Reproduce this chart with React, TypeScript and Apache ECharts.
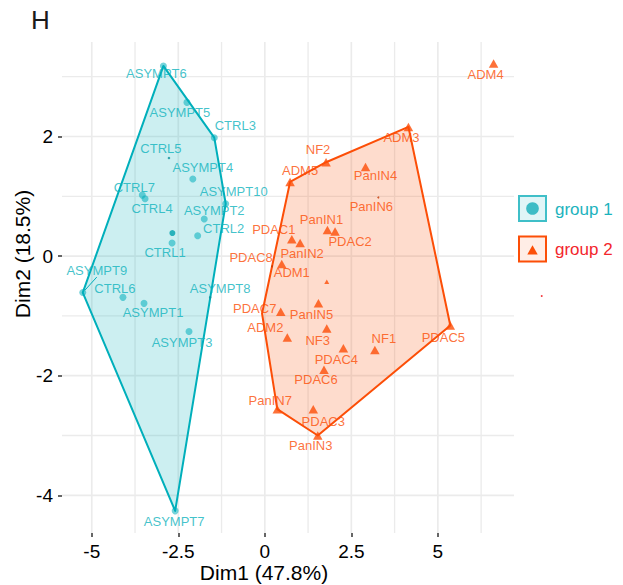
import React, { useEffect, useRef } from 'react';
import * as echarts from 'echarts';

// ---- data (Dim1, Dim2) ----
const g1Names = ['ASYMPT6', 'ASYMPT5', 'CTRL3', 'CTRL5', 'ASYMPT4', 'CTRL7', 'CTRL4', 'ASYMPT10', 'ASYMPT2', 'CTRL2', 'CTRL1', 'ASYMPT9', 'CTRL6', 'ASYMPT1', 'ASYMPT8', 'ASYMPT3', 'ASYMPT7'];
const g1X = [-2.93, -2.25, -1.46, -2.77, -2.08, -3.54, -3.46, -1.13, -1.75, -1.94, -2.68, -5.26, -4.10, -3.49, -1.58, -2.19, -2.59];
const g1Y = [3.18, 2.57, 1.98, 1.64, 1.29, 1.02, 0.96, 0.875, 0.62, 0.34, 0.22, -0.61, -0.69, -0.79, -0.69, -1.26, -4.26];

const g2Names = ['ADM4', 'ADM3', 'NF2', 'PanIN4', 'ADM5', 'PanIN6', 'PanIN1', 'PDAC2', 'PDAC1', 'PanIN2', 'ADM1', 'PDAC8', 'PanIN5', 'PDAC7', 'ADM2', 'NF3', 'NF1', 'PDAC4', 'PDAC5', 'PDAC6', 'PanIN7', 'PDAC3', 'PanIN3'];
const g2X = [6.61, 4.15, 1.77, 2.91, 0.73, 3.28, 1.81, 2.03, 0.78, 1.02, 0.49, 0.21, 1.55, 0.46, 0.65, 1.79, 3.18, 2.27, 5.36, 1.71, 0.36, 1.40, 1.53];
const g2Y = [3.22, 2.16, 1.57, 1.49, 1.24, 0.98, 0.435, 0.41, 0.28, 0.22, -0.13, -0.17, -0.79, -0.93, -1.36, -1.21, -1.57, -1.54, -1.16, -1.90, -2.56, -2.56, -3.00];

// unlabeled extra points (cluster centres / hidden hull vertex)
const extraIds = ['c1', 'c2', 'v2'];
const extraGroup = [1, 2, 2];
const extraX = [-2.67, 1.79, -0.08];
const extraY = [0.385, -0.43, -0.96];

const hull1 = ['ASYMPT6', 'CTRL3', 'ASYMPT10', 'ASYMPT7', 'ASYMPT9'];
const hull2 = ['ADM5', 'NF2', 'ADM3', 'PDAC5', 'PanIN3', 'PanIN7', 'v2', 'PDAC8'];

const xTicks = [-5, -2.5, 0, 2.5, 5];
const xMinor = [-3.75, -1.25, 1.25, 3.75, 6.25];
const yTicks = [-4, -2, 0, 2];
const yMinor = [-3, -1, 1, 3];

// ---- layout / style (not data) ----
const C1 = '#00AFBB';
const C2 = '#FC4E07';
const FONT = 'Liberation Sans, Arial, Helvetica, sans-serif';
const tiny = new Set(['CTRL5', 'ASYMPT8', 'PanIN6', 'PDAC8']);
const g1LabelOffsets: number[][] = [
  [-7, 8], [-7, 10], [21, -12], [-8, -10], [10, -11], [-8, -8], [7, 10], [8, -12], [10, -9], [26, -7], [-7, 10], [14, -22], [-8, -9], [9, 9], [10, -9], [-7, 11], [-1, 11],
];
const g2LabelOffsets: number[][] = [
  [-8, 11], [-7, 11], [-8, -13], [10, 9], [10, -11], [-7, 9], [-6, -11], [15, 10], [-18, -10], [2, 11], [10, 9], [-21, -9], [-7, 11], [-26, -3], [-22, -10], [-9, 12], [9, -11], [-7, 11], [-7, 12], [-8, 10], [-7, -9], [10, 12], [-7, 10],
];

const lookup: Record<string, number[]> = {};
g1Names.forEach((n, i) => (lookup[n] = [g1X[i], g1Y[i]]));
g2Names.forEach((n, i) => (lookup[n] = [g2X[i], g2Y[i]]));
extraIds.forEach((n, i) => (lookup[n] = [extraX[i], extraY[i]]));

export default function App() {
  const ref = useRef<HTMLDivElement>(null);
  useEffect(() => {
    document.body.style.margin = '0';
    const chart = echarts.init(ref.current!, null, { renderer: 'svg' });

    const gridData = [
      ...xTicks.map((v) => [0, v, 1]),
      ...xMinor.map((v) => [0, v, 0]),
      ...yTicks.map((v) => [1, v, 1]),
      ...yMinor.map((v) => [1, v, 0]),
    ];

    const hullSeries = (names: string[], color: string, fill: string) => ({
      type: 'custom',
      z: 1,
      silent: true,
      clip: false,
      data: [lookup[names[0]]],
      renderItem: (params: any, api: any) => ({
        type: 'polygon',
        shape: { points: names.map((n) => api.coord(lookup[n])) },
        style: { fill, stroke: color, lineWidth: 2, lineJoin: 'round' },
      }),
    });

    const g1Data = g1Names.map((n, i) => ({
      name: n,
      value: [g1X[i], g1Y[i]],
      symbolSize: tiny.has(n) ? 2.5 : 7,
      itemStyle: { color: tiny.has(n) ? '#0a8f99' : 'rgba(0,175,187,0.68)' },
      labelLine: n === 'ASYMPT9' ? { show: true, lineStyle: { color: C1, width: 1 } } : { show: false },
    }));
    const g2Data = g2Names.map((n, i) => ({
      name: n,
      value: [g2X[i], g2Y[i]],
      symbolSize: tiny.has(n) ? 2 : [9.5, 8.5],
      symbol: tiny.has(n) ? 'circle' : 'triangle',
      itemStyle: { color: tiny.has(n) ? '#c33a05' : C2 },
    }));
    const extraData = extraIds.map((id, i) => ({
      name: id,
      value: [extraX[i], extraY[i]],
      symbol: extraGroup[i] === 1 ? 'circle' : 'triangle',
      symbolSize: id === 'v2' ? 0 : extraGroup[i] === 1 ? 6 : [5, 4.5],
      itemStyle: { color: extraGroup[i] === 1 ? '#00a3ae' : C2 },
    }));

    const tickStyle = { show: true, length: 4, lineStyle: { color: '#333', width: 1.5 } };
    const labelStyle = { fontSize: 19, color: '#000', margin: 9, fontFamily: FONT, formatter: (v: number) => String(v) };

    chart.setOption({
      animation: false,
      grid: { left: 62, right: 109, top: 42, bottom: 52, containLabel: false },
      xAxis: {
        type: 'value',
        min: -5.86,
        max: 7.2,
        position: 'bottom',
        axisLine: { show: false, onZero: false },
        splitLine: { show: false },
        axisTick: { ...tickStyle, customValues: xTicks },
        axisLabel: { ...labelStyle, customValues: xTicks },
      },
      yAxis: {
        type: 'value',
        min: -4.63,
        max: 3.58,
        position: 'left',
        axisLine: { show: false, onZero: false },
        splitLine: { show: false },
        axisTick: { ...tickStyle, customValues: yTicks },
        axisLabel: { ...labelStyle, customValues: yTicks },
      },
      series: [
        {
          type: 'custom',
          z: 0,
          silent: true,
          data: gridData,
          renderItem: (params: any, api: any) => {
            const cs = params.coordSys;
            const dir = api.value(0);
            const v = api.value(1);
            const major = api.value(2) === 1;
            const style = { stroke: '#ebebeb', lineWidth: major ? 1.7 : 1.3 };
            if (dir === 0) {
              const x = api.coord([v, 0])[0];
              return { type: 'line', shape: { x1: x, y1: cs.y, x2: x, y2: cs.y + cs.height }, style };
            }
            const y = api.coord([0, v])[1];
            return { type: 'line', shape: { x1: cs.x, y1: y, x2: cs.x + cs.width, y2: y }, style };
          },
        },
        hullSeries(hull1, C1, 'rgba(0,175,187,0.2)'),
        hullSeries(hull2, C2, 'rgba(252,78,7,0.2)'),
        {
          type: 'scatter',
          z: 3,
          data: extraData,
          label: { show: false },
        },
        {
          type: 'scatter',
          z: 4,
          symbol: 'circle',
          data: g1Data,
          label: { show: true, position: 'inside', formatter: '{b}', color: '#10b3bd', fontSize: 13, fontFamily: FONT },
          labelLine: { show: false },
          labelLayout: (p: any) => {
            const o = g1LabelOffsets[p.dataIndex] || [0, 0];
            return { dx: o[0], dy: o[1] };
          },
        },
        {
          type: 'scatter',
          z: 4,
          data: g2Data,
          label: { show: true, position: 'inside', formatter: '{b}', color: C2, fontSize: 13, fontFamily: FONT },
          labelLayout: (p: any) => {
            const o = g2LabelOffsets[p.dataIndex] || [0, 0];
            return { dx: o[0], dy: o[1] };
          },
        },
      ],
      graphic: [
        { type: 'text', left: 31, top: 7, style: { text: 'H', fontSize: 26, fill: '#1a1a1a', fontFamily: FONT } },
        { type: 'text', x: 264, y: 572, style: { text: 'Dim1 (47.8%)', fontSize: 21, fill: '#000', fontFamily: FONT, align: 'center', verticalAlign: 'middle' } },
        { type: 'text', x: 22, y: 254, rotation: Math.PI / 2, style: { text: 'Dim2 (18.5%)', fontSize: 21, fill: '#000', fontFamily: FONT, align: 'center', verticalAlign: 'middle' } },
        { type: 'rect', shape: { x: 519, y: 196, width: 27, height: 25 }, style: { fill: 'rgba(0,175,187,0.12)', stroke: '#3fbfc8', lineWidth: 2 } },
        { type: 'circle', shape: { cx: 532.5, cy: 208.5, r: 6.3 }, style: { fill: '#3dbcc6' } },
        { type: 'text', x: 555, y: 209, style: { text: 'group 1', fontSize: 17, fill: '#1cb3bd', fontFamily: FONT, verticalAlign: 'middle' } },
        { type: 'rect', shape: { x: 519, y: 236.5, width: 27, height: 25 }, style: { fill: 'rgba(252,78,7,0.1)', stroke: C2, lineWidth: 2 } },
        { type: 'polygon', shape: { points: [[527.3, 254.5], [537.7, 254.5], [532.5, 245.3]] }, style: { fill: C2 } },
        { type: 'text', x: 555, y: 249, style: { text: 'group 2', fontSize: 17, fill: '#F3262C', fontFamily: FONT, verticalAlign: 'middle' } },
        { type: 'circle', shape: { cx: 541.7, cy: 296, r: 0.9 }, style: { fill: '#F3262C' } },
      ],
    });
    return () => chart.dispose();
  }, []);
  return <div ref={ref} style={{ position: 'absolute', left: 0, top: 0, width: 623, height: 585 }} />;
}
